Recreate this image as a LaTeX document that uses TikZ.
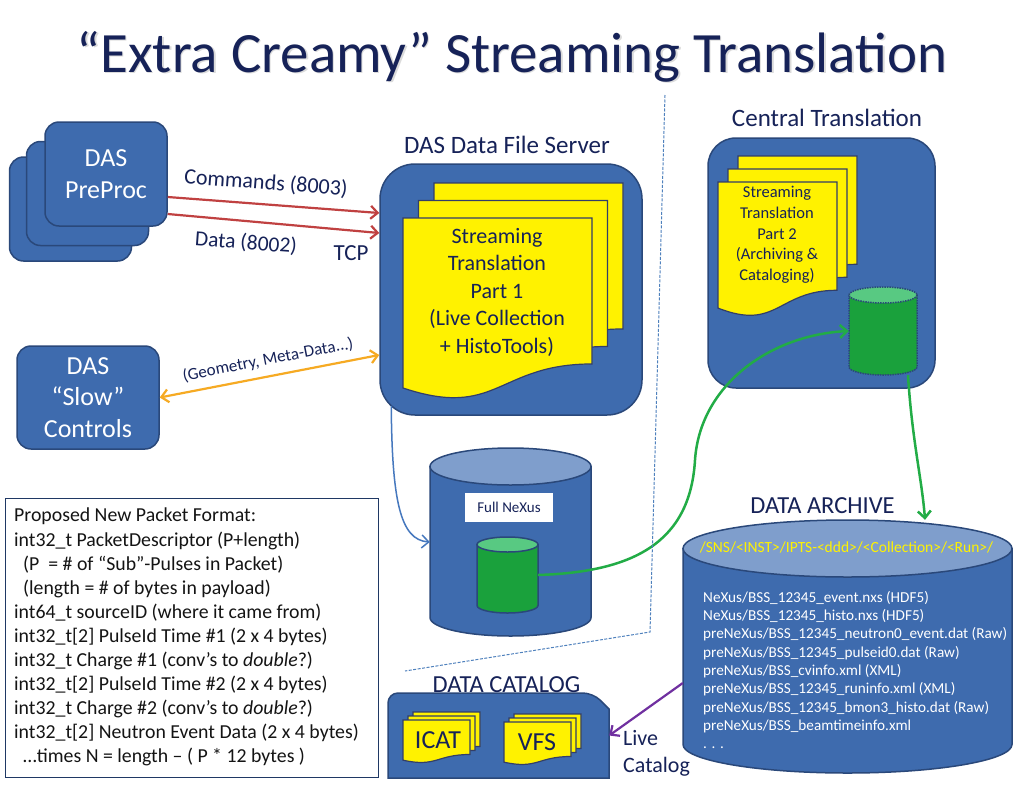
\documentclass[tikz,border=0pt]{standalone}
\usepackage{fontspec}
\setmainfont{Carlito}
\usetikzlibrary{arrows.meta}

\definecolor{boxblue}{RGB}{62,107,174}
\definecolor{boxline}{RGB}{42,72,122}
\definecolor{cyltop}{RGB}{127,158,204}
\definecolor{navy}{RGB}{22,34,88}
\definecolor{docline}{RGB}{50,62,105}
\definecolor{greenbody}{RGB}{26,161,60}
\definecolor{greentop}{RGB}{88,201,130}
\definecolor{greenline}{RGB}{34,172,70}
\definecolor{redline}{RGB}{192,65,65}
\definecolor{orangeline}{RGB}{246,170,35}
\definecolor{purpleline}{RGB}{112,48,160}
\definecolor{dashblue}{RGB}{79,129,189}
\definecolor{linkblue}{RGB}{70,120,190}
\definecolor{pktline}{RGB}{31,56,100}
\definecolor{pkttext}{RGB}{20,20,20}

\newcommand{\fsz}[2]{\fontsize{#1}{#2}\selectfont}

% one yellow page with a wavy lower edge: x, y (top left), w, h
\newcommand{\docpage}[4]{%
  \filldraw[docpage] (#1,#2) -- ({#1+#3},#2) -- ({#1+#3},{#2+0.802*#4})
    .. controls ({#1+0.5*#3},{#2+0.802*#4}) and ({#1+0.5*#3},{#2+1.1075*#4}) .. (#1,{#2+0.934*#4}) -- cycle;}

% database drum: [style]{name}{cx}{top}{rx}{ry}{h}{body}{end}
\newcommand{\dbcyl}[9][]{%
  \filldraw[fill=#8, draw=boxline, line width=1.5pt, #1] ({#3-#5},{#4+#6}) -- ({#3-#5},{#4+#7-#6})
    arc[start angle=180, end angle=0, x radius=#5, y radius=#6] -- ({#3+#5},{#4+#6}) -- cycle;
  \filldraw[fill=#9, draw=boxline, line width=1.5pt, #1] (#3,{#4+#6}) ellipse[x radius=#5, y radius=#6];
  \node[inner sep=0pt, minimum width={2*#5pt}, minimum height={#7pt}] (#2) at (#3,{#4+#7/2}) {};}

\tikzset{
  bluebox/.style={draw=boxline, fill=boxblue, line width=1.5pt, rounded corners=#1,
    text=white, align=center, inner sep=0pt},
  bluebox/.default=14pt,
  docpage/.style={draw=docline, fill=yellow, line width=1.2pt},
  doctext/.style={text=navy, align=center, inner sep=0pt},
  headline/.style={text=navy, inner sep=0pt},
  conn/.style={line width=2.2pt, -{Straight Barb[length=7pt,width=13pt]}},
}

\begin{document}
\begin{tikzpicture}[x=1pt, y=-1pt]
  \fill[white] (0,0) rectangle (1019,795);
  \useasboundingbox (0,0) rectangle (1019,795);

  \node[text=black!14, inner sep=0pt, anchor=base, font=\fsz{57}{68}] (titleshadow) at (513.5,73.5) {“Extra Creamy” Streaming Translation};
  \node[headline, anchor=base, font=\fsz{57}{68}] (title) at (512,72) {“Extra Creamy” Streaming Translation};

  % DAS PreProc stack
  \node[bluebox, minimum width=122pt, minimum height=104pt] (pp3) at (70.5,209) {};
  \node[bluebox, minimum width=122pt, minimum height=104pt] (pp2) at (87.5,193.5) {};
  \node[bluebox, minimum width=122pt, minimum height=104pt, font=\fsz{26}{32}] (pp) at (106,174) {DAS\\PreProc};

  \node[bluebox, minimum width=142pt, minimum height=103pt, font=\fsz{26}{31.5}] (slow) at (88,397.5) {DAS\\“Slow”\\Controls};

  % DAS data file server
  \node[headline, anchor=base, font=\fsz{25}{30}] (dfslbl) at (507,153) {DAS Data File Server};
  \node[bluebox=35pt, minimum width=262pt, minimum height=251pt] (dfs) at (511,289.5) {};
  \foreach \k in {2,1,0} {\docpage{403+15.5*\k}{218-17.5*\k}{189}{182}}
  \node[doctext, font=\fsz{22}{27.5}] (st1) at (497,292) {Streaming\\Translation\\Part 1\\(Live Collection\\+ HistoTools)};

  % central translation
  \node[headline, anchor=base, font=\fsz{25}{30}] (ctlbl) at (827,126) {Central Translation};
  \node[bluebox=28pt, minimum width=227pt, minimum height=250pt] (ct) at (821.5,263) {};
  \foreach \k in {2,1,0} {\docpage{718+10*\k}{182-13*\k}{119}{135}}
  \node[doctext, font=\fsz{16.5}{20.7}] (st2) at (777,235) {Streaming\\Translation\\Part 2\\(Archiving \&\\Cataloging)};
  \dbcyl[densely dotted]{cg}{883}{287}{34}{8}{88}{greenbody}{greentop}

  % full nexus
  \dbcyl{fn}{510.5}{448}{80.5}{18.5}{188}{boxblue}{cyltop}
  \node[fill=white, minimum width=88pt, minimum height=29pt, inner sep=0pt, text=navy, font=\fsz{15}{18}] (fnlbl) at (509,507.5) {Full NeXus};
  \dbcyl{gn}{507.5}{537}{30.5}{7.5}{76}{greenbody}{greentop}

  % data archive
  \node[headline, anchor=base, font=\fsz{24.5}{30}] (arlbl) at (822.5,513) {DATA ARCHIVE};
  \dbcyl{arch}{847.5}{520}{164.5}{28.5}{253}{boxblue}{cyltop}
  \node[text=yellow, inner sep=0pt, font=\fsz{15.5}{18}] (runpath) at (846.5,547) {/SNS/<INST>/IPTS-<ddd>/<Collection>/<Run>/};
  \node[anchor=north west, align=left, text=white, inner sep=0pt, font=\fsz{15.2}{18.3}] (files) at (703,591)
    {NeXus/BSS\_12345\_event.nxs (HDF5)\\
     NeXus/BSS\_12345\_histo.nxs (HDF5)\\
     preNeXus/BSS\_12345\_neutron0\_event.dat (Raw)\\
     preNeXus/BSS\_12345\_pulseid0.dat (Raw)\\
     preNeXus/BSS\_cvinfo.xml (XML)\\
     preNeXus/BSS\_12345\_runinfo.xml (XML)\\
     preNeXus/BSS\_12345\_bmon3\_histo.dat (Raw)\\
     preNeXus/BSS\_beamtimeinfo.xml\\
     . . .};

  % data catalog
  \node[headline, anchor=base, font=\fsz{24.5}{30}] (catlbl) at (506.5,692) {DATA CATALOG};
  \filldraw[fill=boxblue, draw=boxline, line width=1.5pt] (388,778) [rounded corners=10pt] -- (388,693) -- (593,693)
    [sharp corners] -- (609,709) -- (609,778) -- cycle;
  \node[inner sep=0pt, minimum width=221pt, minimum height=85pt] (cat) at (498.5,735.5) {};
  \foreach \k in {2,1,0} {\docpage{403+5*\k}{720-4*\k}{67}{43}}
  \node[doctext, font=\fsz{26}{30}] (icat) at (438,740) {ICAT};
  \foreach \k in {2,1,0} {\docpage{504+5*\k}{722-4*\k}{67}{43}}
  \node[doctext, font=\fsz{26}{30}] (vfs) at (537,742) {VFS};
  \node[headline, anchor=west, align=left, font=\fsz{22}{27}] (live) at (623,753) {Live\\Catalog};

  % packet format
  \node[draw=pktline, line width=1.3pt, minimum width=373pt, minimum height=279pt, anchor=north west, inner sep=0pt] (pkt) at (5,498) {};
  \node[anchor=north west, align=left, inner sep=0pt, text=pkttext, font=\fsz{19.8}{24.1}] (pkttxt) at (14,508)
    {Proposed New Packet Format:\\
     int32\_t PacketDescriptor (P+length)\\
     \hspace{9pt}(P\ \ = \# of “Sub”-Pulses in Packet)\\
     \hspace{9pt}(length = \# of bytes in payload)\\
     int64\_t sourceID (where it came from)\\
     int32\_t[2] PulseId Time \#1 (2 x 4 bytes)\\
     int32\_t Charge \#1 (conv’s to \emph{double}?)\\
     int32\_t[2] PulseId Time \#2 (2 x 4 bytes)\\
     int32\_t Charge \#2 (conv’s to \emph{double}?)\\
     int32\_t[2] Neutron Event Data (2 x 4 bytes)\\
     \hspace{9pt}…times N = length – ( P * 12 bytes )};

  % connectors
  \draw[conn, redline] ([yshift=-23pt]pp.east) -- ([yshift=76.5pt]dfs.west);
  \draw[conn, redline] ([yshift=-40pt]pp.east) -- ([yshift=56.5pt]dfs.west);
  \node[headline, rotate=-4.3, font=\fsz{22}{26}] (cmdlbl) at (266,183) {Commands (8003)};
  \node[headline, rotate=-4.3, font=\fsz{21.5}{26}] (datalbl) at (246,243) {Data (8002)};
  \node[headline, font=\fsz{23}{27}] (tcp) at (351,253) {TCP};

  \draw[conn, orangeline, {Straight Barb[length=7pt,width=13pt]}-{Straight Barb[length=7pt,width=13pt]}] (slow.east) -- ([yshift=-65.5pt]dfs.west);
  \node[headline, rotate=11, font=\fsz{17}{20}] (geolbl) at (268,360) {(Geometry, Meta-Data...)};

  \draw[conn, linkblue, line width=1.5pt] ([xshift=12pt,yshift=10pt]dfs.south west) .. controls (392,500) and (400,540) .. (fn.west);
  \draw[conn, greenline, line width=2.5pt] (gn.east) .. controls (630,572) and (690,545) .. (695,460)
    .. controls (700,385) and (770,335) .. (cg.west);
  \draw[conn, greenline, line width=2.5pt] ([xshift=25pt]cg.south) .. controls (912,440) and (922,480) .. ([xshift=77.5pt]arch.north);
  \draw[conn, purpleline] ([yshift=-36.5pt]arch.west) -- (cat.east);

  \draw[dashblue, line width=1pt, dash pattern=on 3pt off 1.5pt] (665,95) -- (650,632) -- (405,671);
\end{tikzpicture}
\end{document}
